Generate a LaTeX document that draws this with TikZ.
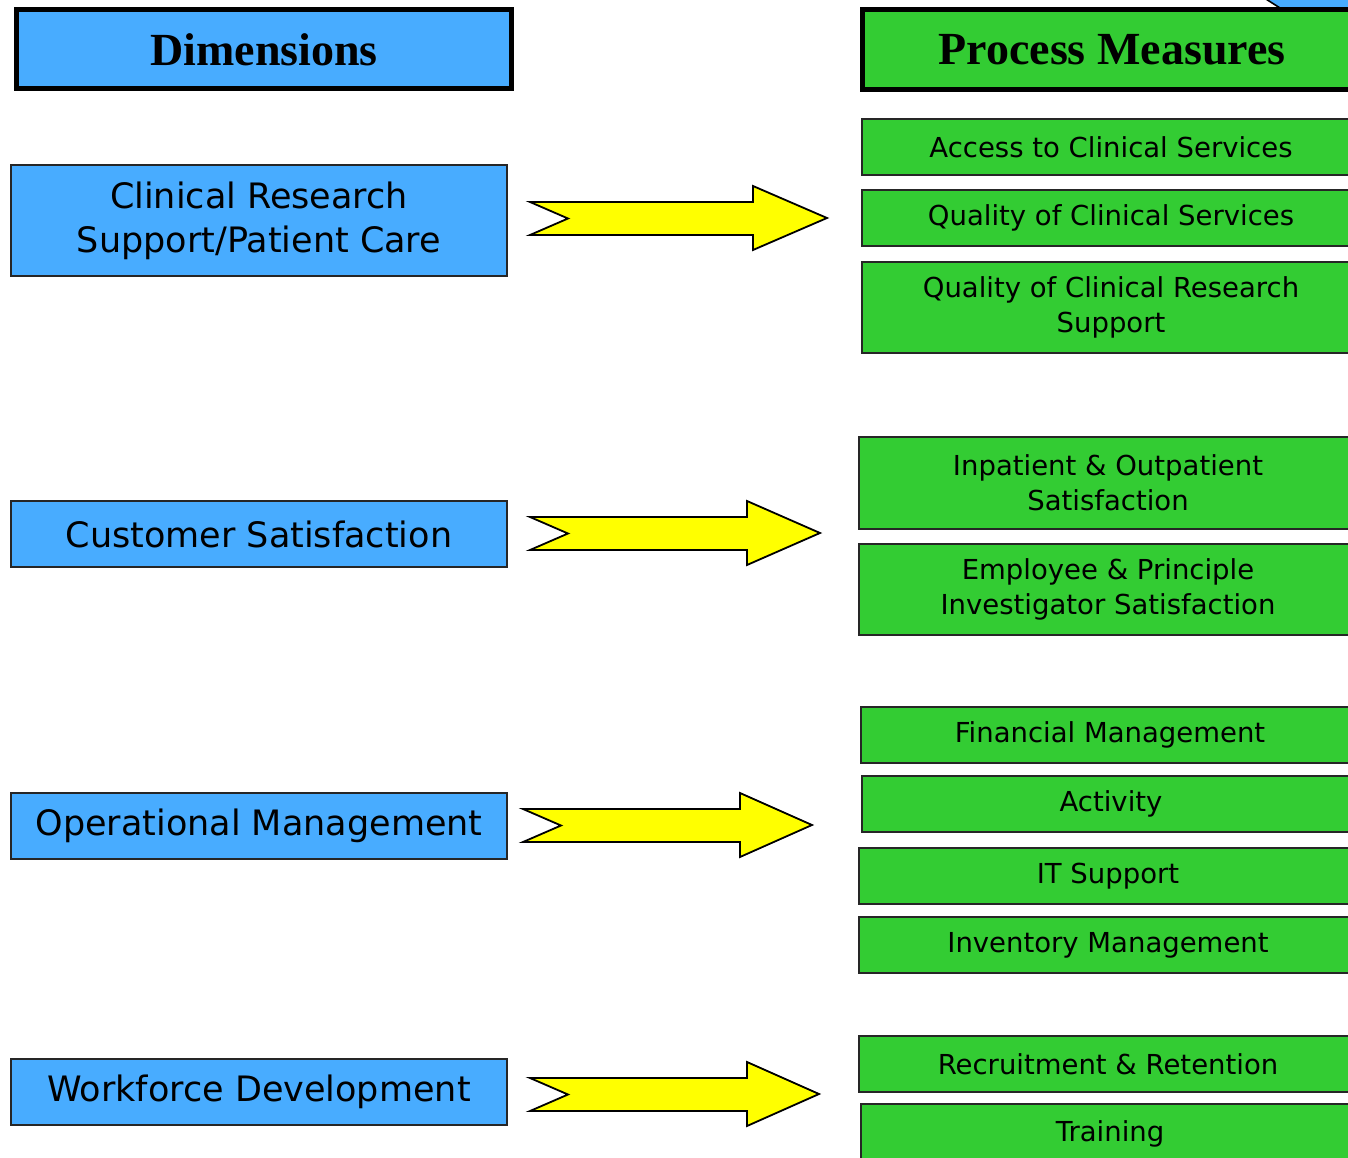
\documentclass[tikz,border=0pt]{standalone}
\usepackage{fontspec}
\setmainfont{DejaVu Sans}
\newfontfamily\headfont{Liberation Serif}
\definecolor{dim_blue}{RGB}{72, 172, 255}
\definecolor{pm_green}{RGB}{51, 204, 51}
\definecolor{arr_yellow}{RGB}{255, 255, 0}
\tikzstyle{hd}=[rectangle,draw=black,line width=5pt,inner sep=2pt,
  font=\headfont\bfseries\fontsize{46}{52}\selectfont]
\tikzstyle{dn}=[rectangle,fill=dim_blue,draw=black!85,line width=1.6pt,
  align=center,font=\fontsize{35}{44}\selectfont]
\tikzstyle{pm}=[rectangle,fill=pm_green,draw=black!85,line width=1.6pt,
  align=center,minimum width=498pt,font=\fontsize{27.5}{35}\selectfont]
\tikzstyle{arr}=[fill=arr_yellow,draw=black,line width=1.8pt,line join=miter]

\begin{document}
\begin{tikzpicture}[x=1pt,y=-1pt]
    \useasboundingbox (0,0) rectangle (1348,1158);
    \clip (0,0) rectangle (1348,1158);
    % corner of the shape behind the right heading
    \draw [fill=dim_blue,draw=black,line width=1.6pt] (1258,-6) -- (1280,8) -- (1360,8) -- (1360,-6) -- cycle;
    % headings
    \node [style=hd,fill=dim_blue,minimum width=495pt,minimum height=79pt] (dims) at (264,49.5) {Dimensions};
    \node [style=hd,fill=pm_green,minimum width=500pt,minimum height=80pt] (meas) at (1112,50) {Process Measures};
    % dimensions
    \node [style=dn,minimum width=496pt,minimum height=111pt] (crs) at (259,220.5) {Clinical Research\\Support/Patient Care};
    \node [style=dn,minimum width=496pt,minimum height=66pt] (cust) at (259,534) {Customer Satisfaction};
    \node [style=dn,minimum width=496pt,minimum height=66pt] (oper) at (259,826) {Operational Management};
    \node [style=dn,minimum width=496pt,minimum height=66pt] (work) at (259,1092) {Workforce Development};
    % process measures
    \node [style=pm,minimum height=56pt] (access) at (1111,147) {Access to Clinical Services};
    \node [style=pm,minimum height=56pt] (qcs) at (1111,218) {Quality of Clinical Services};
    \node [style=pm,minimum height=91pt] (qcrs) at (1111,307.5) {Quality of Clinical Research\\Support};
    \node [style=pm,minimum height=92pt] (inpat) at (1108,483) {Inpatient \& Outpatient\\Satisfaction};
    \node [style=pm,minimum height=91pt] (empl) at (1108,589.5) {Employee \& Principle\\Investigator Satisfaction};
    \node [style=pm,minimum height=56pt] (fin) at (1110,735) {Financial Management};
    \node [style=pm,minimum height=56pt] (act) at (1111,804) {Activity};
    \node [style=pm,minimum height=56pt] (its) at (1108,876) {IT Support};
    \node [style=pm,minimum height=56pt] (inv) at (1108,945) {Inventory Management};
    \node [style=pm,minimum height=56pt] (recr) at (1108,1064) {Recruitment \& Retention};
    \node [style=pm,minimum height=60pt] (train) at (1110,1134) {Training};
    % arrows
    \draw [style=arr] (530,202) -- (753,202) -- (753,186) -- (827,218) -- (753,250) -- (753,235) -- (530,235) -- (568,218.5) -- cycle;
    \draw [style=arr] (530,517) -- (747,517) -- (747,501) -- (820,533) -- (747,565) -- (747,550) -- (530,550) -- (568,533.5) -- cycle;
    \draw [style=arr] (523,809) -- (740,809) -- (740,793) -- (812,825) -- (740,857) -- (740,842) -- (523,842) -- (561,825.5) -- cycle;
    \draw [style=arr] (530,1078) -- (747,1078) -- (747,1062) -- (819,1094) -- (747,1126) -- (747,1111) -- (530,1111) -- (568,1094.5) -- cycle;
  \end{tikzpicture}
\end{document}
